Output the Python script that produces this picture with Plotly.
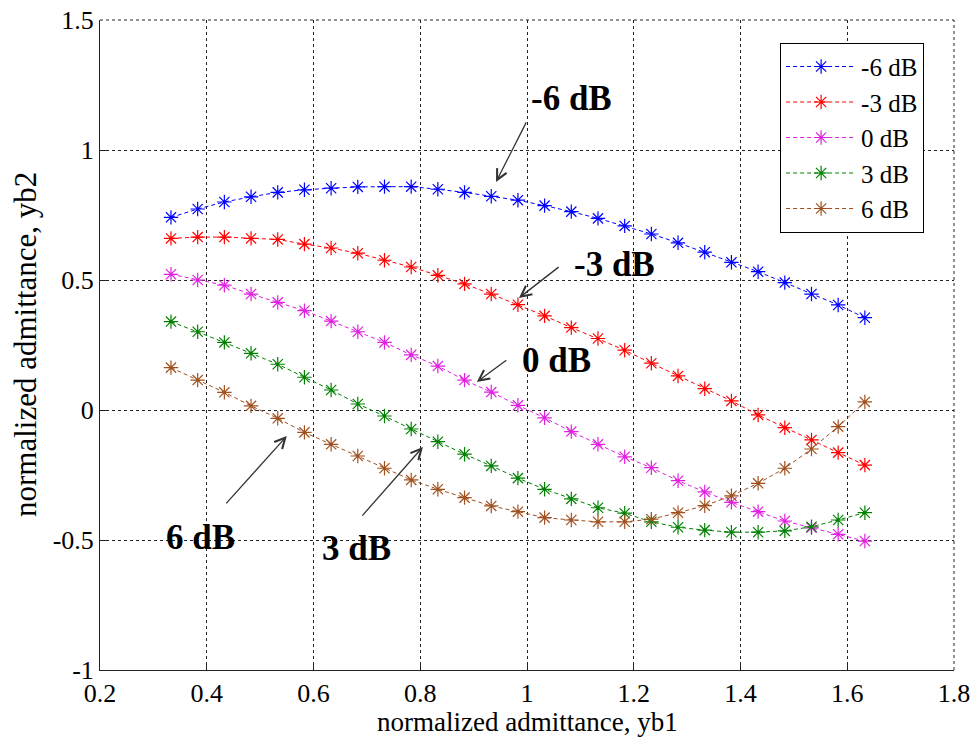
import plotly.graph_objects as go

yb1 = [0.333, 0.383, 0.433, 0.483, 0.533, 0.583, 0.633, 0.683, 0.733, 0.783,
       0.833, 0.883, 0.933, 0.983, 1.033, 1.083, 1.133, 1.183, 1.233, 1.283,
       1.333, 1.383, 1.433, 1.483, 1.533, 1.583, 1.633]

yb2_m6 = [0.741, 0.773, 0.800, 0.820, 0.837, 0.847, 0.853, 0.858, 0.859, 0.859,
          0.849, 0.837, 0.822, 0.807, 0.786, 0.763, 0.737, 0.708, 0.677, 0.643,
          0.607, 0.568, 0.532, 0.490, 0.446, 0.404, 0.355]
yb2_m3 = [0.660, 0.665, 0.665, 0.660, 0.656, 0.638, 0.623, 0.603, 0.576, 0.550,
          0.518, 0.485, 0.446, 0.405, 0.362, 0.317, 0.275, 0.230, 0.180, 0.131,
          0.082, 0.035, -0.019, -0.068, -0.115, -0.164, -0.212]
yb2_0 = [0.522, 0.500, 0.480, 0.446, 0.414, 0.382, 0.342, 0.301, 0.260, 0.212,
         0.169, 0.115, 0.069, 0.018, -0.030, -0.083, -0.132, -0.180, -0.222, -0.272,
         -0.315, -0.355, -0.391, -0.427, -0.453, -0.478, -0.504]
yb2_p3 = [0.340, 0.301, 0.260, 0.218, 0.176, 0.126, 0.077, 0.023, -0.023, -0.073,
          -0.122, -0.170, -0.215, -0.262, -0.305, -0.342, -0.376, -0.397, -0.430, -0.451,
          -0.462, -0.470, -0.470, -0.465, -0.449, -0.423, -0.395]
yb2_p6 = [0.163, 0.115, 0.068, 0.016, -0.032, -0.086, -0.132, -0.177, -0.224, -0.269,
          -0.305, -0.337, -0.369, -0.391, -0.414, -0.423, -0.430, -0.430, -0.420, -0.395,
          -0.368, -0.330, -0.282, -0.224, -0.150, -0.064, 0.031]

series_names = ["-6 dB", "-3 dB", "0 dB", "3 dB", "6 dB"]
series_values = [yb2_m6, yb2_m3, yb2_0, yb2_p3, yb2_p6]
series_colors = ["#0000ff", "#ff0000", "#e020e0", "#008000", "#a0501e"]

x_ticks = [0.2, 0.4, 0.6, 0.8, 1.0, 1.2, 1.4, 1.6, 1.8]
x_ticktext = ["0.2", "0.4", "0.6", "0.8", "1", "1.2", "1.4", "1.6", "1.8"]
y_ticks = [-1, -0.5, 0, 0.5, 1, 1.5]
y_ticktext = ["-1", "-0.5", "0", "0.5", "1", "1.5"]

x_title = "normalized admittance, yb1"
y_title = "normalized admittance, yb2"

# annotation labels: (text, text_x, text_y, tail_x, tail_y, head_x, head_y)
labels = [
    ("-6 dB", 1.084, 1.200, 1.000, 1.112, 0.942, 0.877),
    ("-3 dB", 1.163, 0.558, 1.062, 0.554, 0.985, 0.431),
    ("0 dB", 1.056, 0.192, 0.964, 0.196, 0.906, 0.108),
    ("6 dB", 0.389, -0.492, 0.434, -0.365, 0.550, -0.100),
    ("3 dB", 0.680, -0.531, 0.689, -0.412, 0.805, -0.142),
]

FONT = "Liberation Serif, Times New Roman, serif"

fig = go.Figure()
for name, vals, col in zip(series_names, series_values, series_colors):
    fig.add_trace(go.Scatter(
        x=yb1, y=vals, name=name, mode="lines+markers",
        line=dict(color=col, width=1, dash="4px,3px"),
        marker=dict(symbol="asterisk-open", size=12, color=col,
                    line=dict(color=col, width=1.2)),
    ))

annotations = []
for txt, tx, ty, ax_, ay_, hx, hy in labels:
    annotations.append(dict(
        x=hx, y=hy, ax=ax_, ay=ay_, xref="x", yref="y", axref="x", ayref="y",
        text="", showarrow=True, arrowhead=5, arrowsize=1.6, arrowwidth=1.3,
        arrowcolor="#333333", standoff=0, startstandoff=0,
    ))
    annotations.append(dict(
        x=tx, y=ty, xref="x", yref="y", text="<b>" + txt + "</b>",
        showarrow=False, font=dict(family=FONT, size=35, color="black"),
        xanchor="center", yanchor="middle",
    ))

# axis titles
annotations.append(dict(
    x=0.5, y=-0.080, xref="paper", yref="paper", text=x_title,
    showarrow=False, font=dict(family=FONT, size=27, color="black"),
    xanchor="center", yanchor="middle",
))
annotations.append(dict(
    x=-0.0878, y=0.5, xref="paper", yref="paper", text=y_title, textangle=-90,
    showarrow=False, font=dict(family=FONT, size=31, color="black"),
    xanchor="center", yanchor="middle",
))

axis_common = dict(
    showgrid=True, gridcolor="#222222", gridwidth=1, griddash="3px,3px",
    zeroline=False, showline=True, linecolor="#222222", linewidth=1,
    ticks="inside", ticklen=7, tickcolor="#222222", automargin=False,
    tickfont=dict(family=FONT, size=26, color="black"),
)

# dashed frame on the top and right edges (grid lines at 1.5 and 1.8)
shapes = [
    dict(type="line", xref="paper", yref="paper", x0=0, x1=1, y0=1, y1=1,
         line=dict(color="#222222", width=1, dash="3px,3px")),
    dict(type="line", xref="paper", yref="paper", x0=1, x1=1, y0=0, y1=1,
         line=dict(color="#222222", width=1, dash="3px,3px")),
]

fig.update_layout(
    width=975, height=740,
    margin=dict(l=100, r=21, t=20, b=70),
    paper_bgcolor="white", plot_bgcolor="white",
    font=dict(family=FONT, color="black"),
    xaxis=dict(range=[0.2, 1.8], tickvals=x_ticks, ticktext=x_ticktext,
               **axis_common),
    yaxis=dict(range=[-1, 1.5], tickvals=y_ticks, ticktext=y_ticktext,
               **axis_common),
    legend=dict(x=0.965, y=0.965, xanchor="right", yanchor="top",
                bordercolor="black", borderwidth=1, bgcolor="white",
                font=dict(family=FONT, size=25, color="black"),
                tracegroupgap=0, itemwidth=70),
    annotations=annotations,
    shapes=shapes,
    showlegend=True,
)

fig.write_html("out.html",
               config={"displayModeBar": False},
               post_script="document.body.style.margin='0';document.body.style.overflow='hidden';")
